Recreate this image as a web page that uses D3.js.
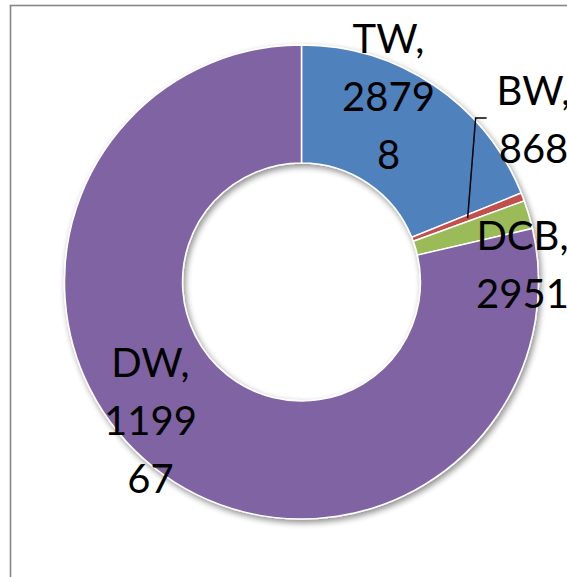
<!DOCTYPE html>
<html>
<head>
<meta charset="utf-8">
<script src="https://cdn.jsdelivr.net/npm/d3@7"></script>
<style>
  body { margin: 0; background: #fff; }
  svg { display: block; }
  .lbl { font-family: Lato, "Open Sans", sans-serif; font-size: 40px; fill: #000; }
</style>
</head>
<body>
<svg id="chart"></svg>
<script>
// chart data
const categories = ["TW", "BW", "DCB", "DW"]
const values = [28798, 868, 2951, 119967]
const colors = ["#4F81BD", "#C0504D", "#9BBB59", "#8064A2"]
// data labels as Excel wrapped them
const labelLines = [
  ["TW,", "2879", "8"],
  ["BW,", "868"],
  ["DCB,", "2951"],
  ["DW,", "1199", "67"]
]

const width = 567
const height = 577
const center = { x: 301.5, y: 282 }
const outerR = 237
const innerR = 119

// where each label block sits (top baseline), relative to the chart centre
const labelPos = {
  TW:  { x: 87,  y: -229 },
  BW:  { x: 232, y: -177 },
  DCB: { x: 221, y: -32 },
  DW:  { x: -151, y: 95 }
}
const lineStep = 58

const svg = d3.select("#chart")
  .attr("width", width)
  .attr("height", height)

// drop shadow like office charts
const defs = svg.append("defs")
const f = defs.append("filter")
  .attr("id", "shadow")
  .attr("x", "-20%").attr("y", "-20%")
  .attr("width", "140%").attr("height", "140%")
f.append("feGaussianBlur").attr("in", "SourceAlpha").attr("stdDeviation", 3).attr("result", "b")
f.append("feOffset").attr("in", "b").attr("dx", 2).attr("dy", 3).attr("result", "o")
f.append("feComponentTransfer").attr("in", "o").attr("result", "s")
  .append("feFuncA").attr("type", "linear").attr("slope", 0.45)
const merge = f.append("feMerge")
merge.append("feMergeNode").attr("in", "s")
merge.append("feMergeNode").attr("in", "SourceGraphic")

// chart area border (extends past the window)
svg.append("rect")
  .attr("x", 10.5).attr("y", 5.5)
  .attr("width", 700).attr("height", 700)
  .attr("fill", "none")
  .attr("stroke", "#878787")
  .attr("stroke-width", 1.6)

const dataset = categories.map((c, i) => ({ name: c, value: values[i], color: colors[i], lines: labelLines[i] }))

const pie = d3.pie().value(d => d.value).sort(null)
const arc = d3.arc().innerRadius(innerR).outerRadius(outerR)

const g = svg.append("g")
  .attr("transform", `translate(${center.x},${center.y})`)

g.append("g")
  .attr("filter", "url(#shadow)")
  .selectAll("path")
  .data(pie(dataset))
  .join("path")
    .attr("d", arc)
    .attr("fill", d => d.data.color)
    .attr("stroke", "#fff")
    .attr("stroke-width", 1.5)

// leader line for the BW label
const bw = pie(dataset)[1]
const bwMid = (bw.startAngle + bw.endAngle) / 2
const pR = innerR + (outerR - innerR) * 0.5
const px = Math.sin(bwMid) * pR
const py = -Math.cos(bwMid) * pR
g.append("polyline")
  .attr("points", [[px, py], [px + 8, -164], [px + 19, -164]].map(p => p.join(",")).join(" "))
  .attr("fill", "none")
  .attr("stroke", "#000")
  .attr("stroke-width", 1.5)

// data labels
const labels = g.append("g")
dataset.forEach(d => {
  const pos = labelPos[d.name]
  const t = labels.append("text")
    .attr("class", "lbl")
    .attr("text-anchor", "middle")
  d.lines.forEach((line, i) => {
    t.append("tspan")
      .attr("x", pos.x)
      .attr("y", pos.y + i * lineStep)
      .text(line)
  })
})
</script>
</body>
</html>
